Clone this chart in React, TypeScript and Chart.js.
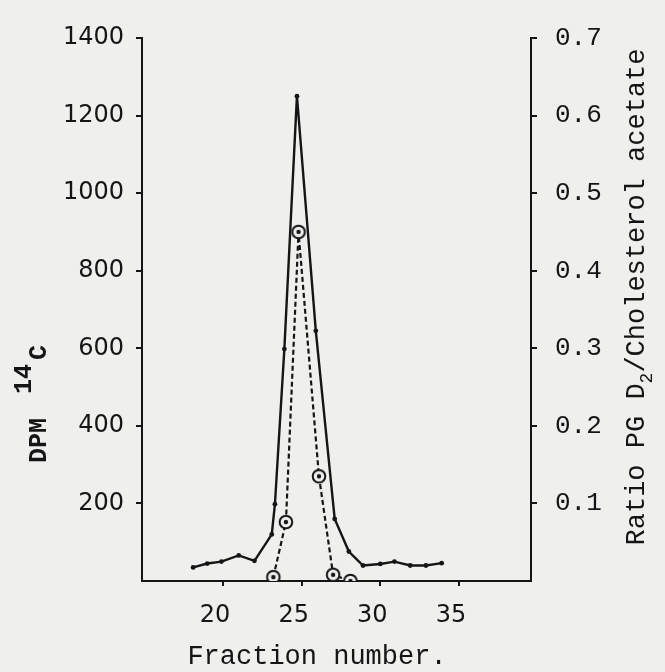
import React, { useEffect, useRef } from "react";
import { Chart, registerables } from "chart.js";

Chart.register(...registerables);

// Fraction positions and 14C DPM values (solid line)
const dpmFractions = [18.1, 19.0, 19.9, 21.0, 22.0, 23.1, 23.3, 23.9, 24.7, 25.9, 27.1, 28.0, 28.9, 30.0, 30.9, 31.9, 32.9, 33.9];
const dpmValues = [35, 45, 50, 66, 52, 120, 198, 598, 1250, 645, 160, 76, 40, 44, 50, 40, 40, 46];

// Ratio PG D2 / Cholesterol acetate (dashed line with circles)
const ratioFractions = [23.2, 24.0, 24.8, 26.1, 27.0, 28.1];
const ratioValues = [0.005, 0.076, 0.45, 0.135, 0.008, 0.0];

// Tick labels
const xTickValues = [20, 25, 30, 35];
const dpmTickValues = [200, 400, 600, 800, 1000, 1200, 1400];
const ratioTickValues = [0.1, 0.2, 0.3, 0.4, 0.5, 0.6, 0.7];

const xTitle = "Fraction number.";
const leftTitleMain = "DPM";
const leftTitleSup = "14";
const leftTitleEnd = "C";
const rightTitleA = "Ratio PG D";
const rightTitleSub = "2";
const rightTitleB = "/Cholesterol acetate";

export default function App() {
  const ref = useRef<HTMLCanvasElement>(null);

  useEffect(() => {
    if (!ref.current) return;
    const bg = "#efefed";
    const ink = "#151515";
    const mono = '"Liberation Mono", "DejaVu Sans Mono", monospace';
    const sans = '"DejaVu Sans", "Liberation Sans", sans-serif';

    const marker = document.createElement("canvas");
    marker.width = 18;
    marker.height = 18;
    const m = marker.getContext("2d")!;
    m.beginPath();
    m.arc(9, 9, 6.3, 0, Math.PI * 2);
    m.fillStyle = bg;
    m.fill();
    m.lineWidth = 2;
    m.strokeStyle = ink;
    m.stroke();
    m.beginPath();
    m.arc(9, 9, 2.2, 0, Math.PI * 2);
    m.fillStyle = ink;
    m.fill();

    const bgPlugin = {
      id: "bg",
      beforeDraw(chart: any) {
        const c = chart.ctx;
        c.save();
        c.fillStyle = bg;
        c.fillRect(0, 0, chart.width, chart.height);
        c.restore();
      },
    };

    const titlePlugin = {
      id: "titles",
      afterDraw(chart: any) {
        const c: CanvasRenderingContext2D = chart.ctx;
        c.save();
        c.fillStyle = ink;
        c.textBaseline = "middle";
        // bottom title
        c.font = `27px ${mono}`;
        c.textAlign = "center";
        c.fillText(xTitle, 317, 657);

        // left title, rotated
        c.save();
        c.translate(40, 0);
        c.rotate(-Math.PI / 2);
        c.textAlign = "left";
        c.font = `bold 25px ${mono}`;
        c.fillText(leftTitleMain, -463, 0);
        c.fillText(leftTitleSup, -394, -15);
        c.fillText(leftTitleEnd, -360, 0);
        c.restore();

        // right title, rotated
        c.save();
        c.translate(637, 0);
        c.rotate(-Math.PI / 2);
        c.textAlign = "left";
        c.font = `27px ${mono}`;
        const wA = c.measureText(rightTitleA).width;
        const wB = c.measureText(rightTitleB).width;
        c.font = `18px ${mono}`;
        const wS = c.measureText(rightTitleSub).width;
        const total = wA + wS + wB;
        const start = -(297 + total / 2);
        c.font = `27px ${mono}`;
        c.fillText(rightTitleA, start, 0);
        c.font = `18px ${mono}`;
        c.fillText(rightTitleSub, start + wA, 10);
        c.font = `27px ${mono}`;
        c.fillText(rightTitleB, start + wA + wS, 0);
        c.restore();

        c.restore();
      },
    };

    const chart = new Chart(ref.current, {
      type: "line",
      data: {
        datasets: [
          {
            label: "DPM 14C",
            data: dpmFractions.map((x, i) => ({ x, y: dpmValues[i] })),
            yAxisID: "y",
            borderColor: ink,
            borderWidth: 2.4,
            pointRadius: 2.4,
            pointBackgroundColor: ink,
            pointBorderWidth: 0,
            tension: 0,
            fill: false,
          },
          {
            label: "Ratio",
            data: ratioFractions.map((x, i) => ({ x, y: ratioValues[i] })),
            yAxisID: "y1",
            borderColor: ink,
            borderWidth: 2.2,
            borderDash: [5, 3],
            pointStyle: marker as any,
            pointRadius: 7,
            tension: 0,
            fill: false,
          },
        ],
      },
      options: {
        animation: false,
        responsive: true,
        maintainAspectRatio: false,
        layout: { padding: { top: 38, left: 0, right: 0, bottom: 0 } },
        plugins: { legend: { display: false }, tooltip: { enabled: false } },
        scales: {
          x: {
            type: "linear",
            min: 14.85,
            max: 39.58,
            afterBuildTicks: (s: any) => {
              s.ticks = xTickValues.map((v) => ({ value: v }));
            },
            afterFit: (s: any) => {
              s.height = 91;
            },
            ticks: {
              font: { family: sans, size: 24 },
              color: ink,
              padding: 15,
              labelOffset: -8,
              maxRotation: 0,
              autoSkip: false,
              callback: (v: any) => String(v),
            },
            grid: { drawOnChartArea: false, tickLength: 5, color: ink, lineWidth: 2 },
            border: { display: true, color: ink, width: 2 },
          },
          y: {
            type: "linear",
            position: "left",
            min: 0,
            max: 1400,
            afterBuildTicks: (s: any) => {
              s.ticks = dpmTickValues.map((v) => ({ value: v }));
            },
            afterFit: (s: any) => {
              s.width = 142;
            },
            ticks: {
              font: { family: sans, size: 24 },
              color: ink,
              padding: 12,
              autoSkip: false,
              callback: (v: any) => String(v),
            },
            grid: { drawOnChartArea: false, tickLength: 6, color: ink, lineWidth: 2 },
            border: { display: true, color: ink, width: 2 },
          },
          y1: {
            type: "linear",
            position: "right",
            min: 0,
            max: 0.7,
            afterBuildTicks: (s: any) => {
              s.ticks = ratioTickValues.map((v) => ({ value: v }));
            },
            afterFit: (s: any) => {
              s.width = 134;
            },
            ticks: {
              font: { family: mono, size: 26 },
              color: ink,
              padding: 18,
              autoSkip: false,
              callback: (v: any) => Number(v).toFixed(1),
            },
            grid: { drawOnChartArea: false, tickLength: 6, color: ink, lineWidth: 2 },
            border: { display: true, color: ink, width: 2 },
          },
        },
      },
      plugins: [bgPlugin, titlePlugin],
    });

    return () => chart.destroy();
  }, []);

  return (
    <div style={{ position: "fixed", left: 0, top: 0, width: 665, height: 672 }}>
      <canvas ref={ref} />
    </div>
  );
}
